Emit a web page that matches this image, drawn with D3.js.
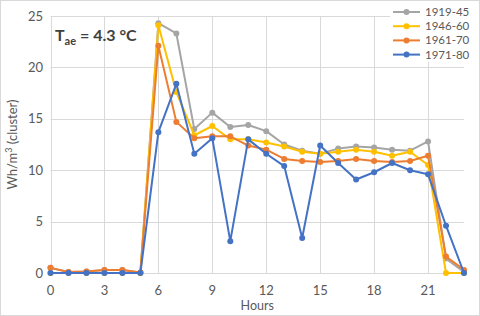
<!DOCTYPE html>
<html>
<head>
<meta charset="utf-8">
<script src="https://cdn.jsdelivr.net/npm/d3@7"></script>
<style>
  body { margin: 0; background: #fff; }
  svg { display: block; font-family: Lato, "Open Sans", sans-serif; }
</style>
</head>
<body>
<div id="chart"></div>
<script>
// Hours of the day and one value per hour for each period
var hours = d3.range(0, 24);
var seriesNames = ["1919-45", "1946-60", "1961-70", "1971-80"];
var seriesColors = ["#a5a5a5", "#ffc000", "#ed7d31", "#4472c4"];

var v1919 = [0.5, 0.1, 0.15, 0.3, 0.3, 0.05, 24.3, 23.3, 14.0, 15.6, 14.2, 14.4,
             13.8, 12.5, 11.9, 11.6, 12.1, 12.3, 12.2, 12.0, 11.9, 12.8, 1.4, 0.1];
var v1946 = [0, 0, 0, 0, 0, 0, 24.1, 17.6, 13.4, 14.3, 13.0, 13.0,
             12.7, 12.3, 11.8, 11.6, 11.8, 12.0, 11.8, 11.4, 11.8, 10.5, 0, 0];
var v1961 = [0.5, 0.1, 0.15, 0.3, 0.3, 0.05, 22.1, 14.7, 13.1, 13.3, 13.3, 12.4,
             12.0, 11.1, 10.9, 10.8, 10.9, 11.1, 10.9, 10.8, 10.9, 11.4, 1.6, 0.3];
var v1971 = [0, 0, 0, 0, 0, 0, 13.7, 18.4, 11.6, 13.1, 3.1, 13.0,
             11.6, 10.4, 3.4, 12.4, 10.7, 9.1, 9.8, 10.7, 10.0, 9.6, 4.6, 0];
var seriesValues = [v1919, v1946, v1961, v1971];

var xTicks = [0, 3, 6, 9, 12, 15, 18, 21];
var yTicks = [0, 5, 10, 15, 20, 25];

var W = 480, H = 316;
var plotL = 50.5, plotR = 464, plotT = 16, plotB = 273;

var svg = d3.select("#chart").append("svg")
  .attr("width", W).attr("height", H);

// Outer chart border
svg.append("rect")
  .attr("x", 0.5).attr("y", 0.5)
  .attr("width", W - 1).attr("height", H - 1)
  .attr("fill", "#fff").attr("stroke", "#d9d9d9");

var x = d3.scaleLinear().domain([0, 23]).range([plotL, plotR]);
var y = d3.scaleLinear().domain([0, 25]).range([plotB, plotT]);

// Grid lines
var grid = svg.append("g").attr("stroke", "#d9d9d9").attr("stroke-width", 1);
grid.selectAll(".hg").data(yTicks).enter().append("line")
  .attr("x1", plotL).attr("x2", plotR)
  .attr("y1", d => Math.round(y(d)) + 0.5).attr("y2", d => Math.round(y(d)) + 0.5);
grid.selectAll(".vg").data(xTicks).enter().append("line")
  .attr("y1", plotT).attr("y2", plotB)
  .attr("x1", d => Math.round(x(d)) + 0.5).attr("x2", d => Math.round(x(d)) + 0.5);

// Tick labels
svg.append("g").selectAll("text").data(yTicks).enter().append("text")
  .attr("x", 43).attr("y", d => y(d) + 4.5)
  .attr("text-anchor", "end")
  .attr("font-size", 13).attr("fill", "#595959")
  .text(d => d);
svg.append("g").selectAll("text").data(xTicks).enter().append("text")
  .attr("x", d => x(d)).attr("y", 295)
  .attr("text-anchor", "middle")
  .attr("font-size", 13).attr("fill", "#595959")
  .text(d => d);

// Axis titles
svg.append("text")
  .attr("x", (plotL + plotR) / 2).attr("y", 310)
  .attr("text-anchor", "middle")
  .attr("font-size", 12.5).attr("fill", "#595959")
  .text("Hours");
svg.append("text")
  .attr("transform", "translate(17," + ((plotT + plotB) / 2) + ") rotate(-90)")
  .attr("text-anchor", "middle")
  .attr("font-size", 13).attr("fill", "#595959")
  .html("Wh/m<tspan baseline-shift='super' font-size='9'>3</tspan> (cluster)");

// Annotation
var note = svg.append("text")
  .attr("x", 55).attr("y", 41)
  .attr("font-size", 16).attr("font-weight", "bold").attr("fill", "#404040");
note.append("tspan").text("T");
note.append("tspan").attr("font-size", 11).attr("dy", 4).text("ae");
note.append("tspan").attr("dy", -4).text(" = 4.3 °C");

// Series
var line = d3.line().x((d, i) => x(hours[i])).y(d => y(d));
seriesValues.forEach(function(vals, s) {
  var g = svg.append("g");
  g.append("path")
    .attr("d", line(vals))
    .attr("fill", "none")
    .attr("stroke", seriesColors[s])
    .attr("stroke-width", 2)
    .attr("stroke-linejoin", "round");
  g.selectAll("circle").data(vals).enter().append("circle")
    .attr("cx", (d, i) => x(hours[i]))
    .attr("cy", d => y(d))
    .attr("r", 3)
    .attr("fill", seriesColors[s]);
});

// Legend
var legend = svg.append("g").attr("transform", "translate(393,12)")
  .selectAll("g").data(seriesNames).enter().append("g")
  .attr("transform", (d, i) => "translate(0," + i * 14.2 + ")");
legend.append("rect")
  .attr("x", -3).attr("y", -7).attr("width", 80).attr("height", 14)
  .attr("fill", "#fff");
legend.append("line")
  .attr("x1", 0).attr("x2", 27)
  .attr("stroke", (d, i) => seriesColors[i]).attr("stroke-width", 2);
legend.append("circle")
  .attr("cx", 13.5).attr("r", 3)
  .attr("fill", (d, i) => seriesColors[i]);
legend.append("text")
  .attr("x", 32).attr("y", 4)
  .attr("font-size", 11.5).attr("fill", "#595959")
  .text(d => d);
</script>
</body>
</html>
